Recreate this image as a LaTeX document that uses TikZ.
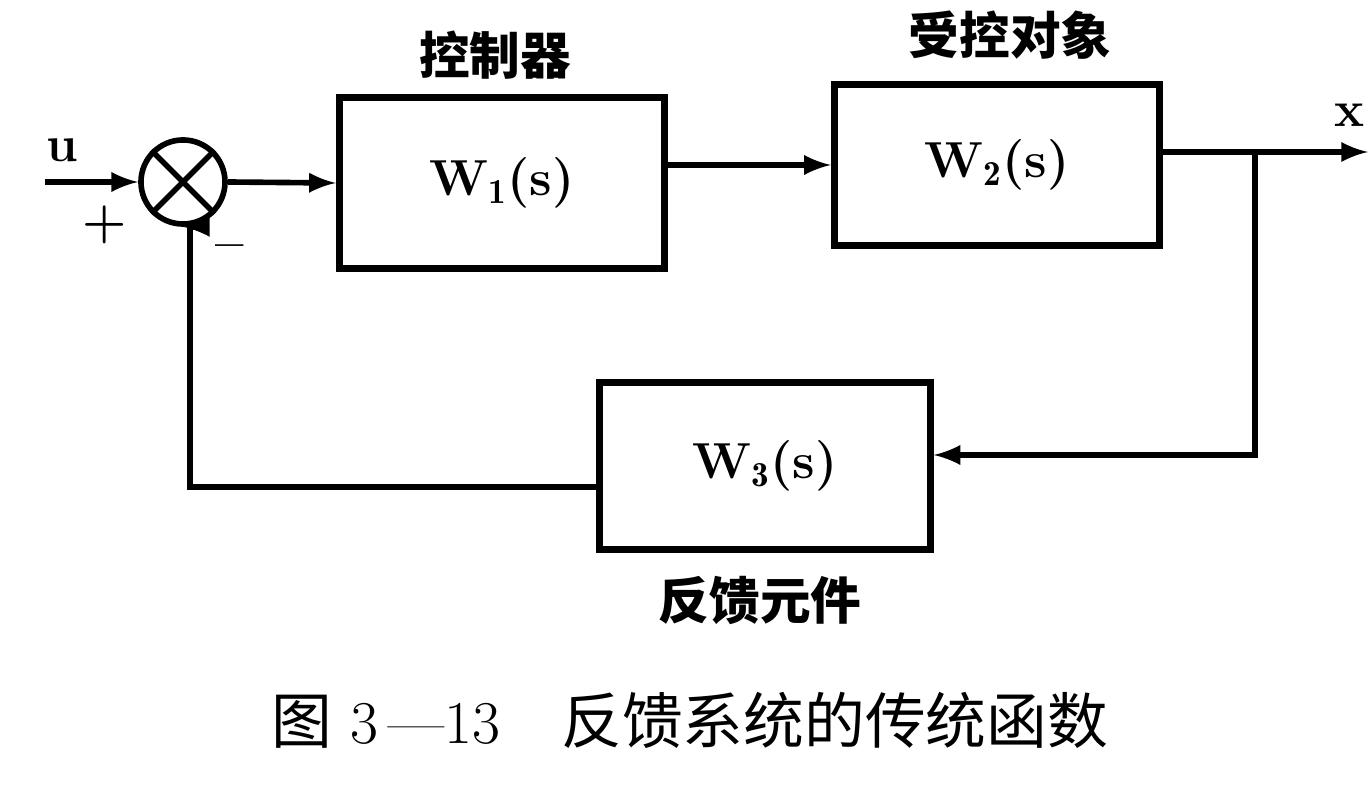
\documentclass[tikz,border=0pt]{standalone}
\usepackage{amsmath}
\usepackage{fontspec}
\newfontfamily\cjk{Noto Sans CJK SC}
\usetikzlibrary{positioning}

\begin{document}
\begin{tikzpicture}[x=0.01cm,y=-0.01cm,line width=1.6pt,
    blk/.style={draw,line width=2pt,minimum width=3.2cm,minimum height=1.65cm,font=\Large\bfseries},
    lbl/.style={font=\cjk\Large\bfseries},
    sig/.style={-latex}]
  \useasboundingbox (0,0) rectangle (1372,801);
  \node[circle,draw,minimum size=0.84cm,inner sep=0pt](sum) at (183,182){};
  \draw (sum.north west) -- (sum.south east) (sum.north east) -- (sum.south west);
  \coordinate (in) at (45,182);
  \node[font=\Large\bfseries] (u) at (62,150){u};
  \node[font=\Large\bfseries] (plus) at (105,225){+};
  \node[font=\Large\bfseries] (minus) at (230,252){--};
  \node[blk,minimum width=3.25cm,minimum height=1.7cm](ctrl) at (502,183){W$_{\mathbf 1}$(s)};
  \node[lbl](ctrlname) at (495,55){控制器};
  \node[blk,minimum width=3.25cm,minimum height=1.6cm](plant) at (997,165){W$_{\mathbf 2}$(s)};
  \node[lbl](plantname) at (1010,35){受控对象};
  \node[blk,minimum width=3.3cm,minimum height=1.67cm](fb) at (765,466){W$_{\mathbf 3}$(s)};
  \node[lbl](fbname) at (760,600){反馈元件};
  \coordinate (out) at (1368,152);
  \node[font=\Large\bfseries] (x) at (1350,115){x};
  \coordinate (br) at (1255,152);
  \coordinate (brd) at (1255,455);
  \coordinate (bl) at (190,487);
  \draw[sig] (in) -- (sum.west);
  \draw[sig] (sum.east) -- (ctrl.west);
  \draw[sig] (ctrl.east |- plant.west) -- (plant.west);
  \draw[sig] (plant.east |- br) -- (out);
  \draw[sig] (br) -- (brd) -- (fb.east |- brd);
  \draw[sig] (fb.west |- bl) -- (bl) -- (bl |- sum.south) -- (sum.south);
  \node[font=\LARGE](caption) at (690,720){{\cjk 图} 3\,---13\quad {\cjk 反馈系统的传统函数}};
\end{tikzpicture}
\end{document}
